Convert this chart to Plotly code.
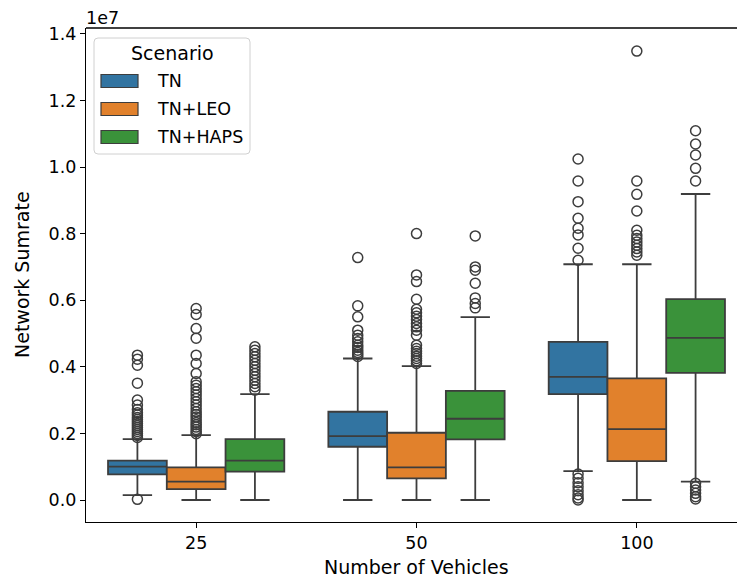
import plotly.graph_objects as go

# ---------------- data (values in units of 1e7) ----------------
categories = ["25", "50", "100"]
scenarios = ["TN", "TN+LEO", "TN+HAPS"]
colors = ["#3274a1", "#e1812c", "#3a923a"]

tn_q1 = [0.077, 0.160, 0.318]
tn_med = [0.100, 0.192, 0.370]
tn_q3 = [0.118, 0.265, 0.475]
tn_lo = [0.015, 0.0, 0.087]
tn_hi = [0.183, 0.425, 0.708]
tn_out = [
    [0.435, 0.423, 0.405, 0.351, 0.30, 0.285, 0.272, 0.262, 0.255, 0.248, 0.242,
     0.236, 0.23, 0.224, 0.218, 0.212, 0.206, 0.2, 0.194, 0.188, 0.002],
    [0.728, 0.583, 0.55, 0.51, 0.495, 0.485, 0.475, 0.465, 0.458, 0.45, 0.443, 0.437, 0.431],
    [1.024, 0.958, 0.896, 0.846, 0.816, 0.796, 0.756, 0.72,
     0.078, 0.065, 0.052, 0.04, 0.028, 0.016, 0.006, 0.0],
]

leo_q1 = [0.033, 0.065, 0.117]
leo_med = [0.055, 0.098, 0.213]
leo_q3 = [0.098, 0.202, 0.365]
leo_lo = [0.0, 0.0, 0.0]
leo_hi = [0.195, 0.402, 0.708]
leo_out = [
    [0.575, 0.557, 0.515, 0.486, 0.435, 0.41, 0.38, 0.355, 0.345, 0.335, 0.325, 0.315,
     0.305, 0.295, 0.285, 0.275, 0.265, 0.257, 0.249, 0.241, 0.233, 0.226, 0.219,
     0.212, 0.205, 0.199],
    [0.80, 0.676, 0.656, 0.603, 0.573, 0.562, 0.552, 0.542, 0.53, 0.52, 0.51, 0.495,
     0.465, 0.455, 0.447, 0.44, 0.432, 0.425, 0.418, 0.41],
    [1.348, 0.958, 0.918, 0.868, 0.81, 0.795, 0.785, 0.775, 0.765, 0.755, 0.745, 0.735],
]

haps_q1 = [0.085, 0.182, 0.382]
haps_med = [0.118, 0.244, 0.487]
haps_q3 = [0.183, 0.328, 0.603]
haps_lo = [0.0, 0.0, 0.055]
haps_hi = [0.318, 0.549, 0.919]
haps_out = [
    [0.46, 0.45, 0.44, 0.43, 0.42, 0.41, 0.40, 0.39, 0.38, 0.37, 0.36, 0.35, 0.34, 0.33],
    [0.793, 0.70, 0.69, 0.651, 0.607, 0.59, 0.577],
    [1.109, 1.069, 1.036, 0.996, 0.958, 0.05, 0.04, 0.03, 0.02, 0.01, 0.003],
]

y_ticks = [0.0, 0.2, 0.4, 0.6, 0.8, 1.0, 1.2, 1.4]
SCALE = 1e7

# ---------------- styling / layout constants ----------------
W, H = 737, 583
PL, PR, PT, PB = 86, 737, 28, 522   # plot area in pixels
EDGE = "#3d3d3d"
FONT = "DejaVu Sans"
FS = 17.5      # tick / legend text
FS_L = 19      # axis labels / legend title
GROUP = 0.8
BW = GROUP / 3

def px(x):
    return (x - PL) / (PR - PL)

def py(y):
    return (PB - y) / (PB - PT)

series = [
    (tn_q1, tn_med, tn_q3, tn_lo, tn_hi, tn_out),
    (leo_q1, leo_med, leo_q3, leo_lo, leo_hi, leo_out),
    (haps_q1, haps_med, haps_q3, haps_lo, haps_hi, haps_out),
]

fig = go.Figure()
for j, (q1, med, q3, lo, hi, outs) in enumerate(series):
    pos = [i + (j - 1) * BW for i in range(len(categories))]
    fig.add_trace(go.Box(
        x=pos,
        q1=[v * SCALE for v in q1],
        median=[v * SCALE for v in med],
        q3=[v * SCALE for v in q3],
        lowerfence=[v * SCALE for v in lo],
        upperfence=[v * SCALE for v in hi],
        width=BW,
        whiskerwidth=0.5,
        fillcolor=colors[j],
        line=dict(color=EDGE, width=1.8),
        boxpoints=False,
        name=scenarios[j],
        showlegend=False,
        hoverinfo="skip",
    ))
    ox, oy = [], []
    for i, vals in enumerate(outs):
        ox += [pos[i]] * len(vals)
        oy += [v * SCALE for v in vals]
    fig.add_trace(go.Scatter(
        x=ox, y=oy, mode="markers",
        marker=dict(symbol="circle-open", size=10, color=EDGE, line=dict(width=1.5, color=EDGE)),
        showlegend=False, hoverinfo="skip",
    ))

shapes = []
# top spine
shapes.append(dict(type="line", xref="paper", yref="paper", x0=0, x1=1, y0=1, y1=1,
                   line=dict(color="black", width=1.3)))

# legend frame (rounded)
lx0, lx1, ly0, ly1, r = 94, 250, 38, 154, 4
path = (f"M {px(lx0 + r)} {py(ly0)} L {px(lx1 - r)} {py(ly0)} "
        f"Q {px(lx1)} {py(ly0)} {px(lx1)} {py(ly0 + r)} "
        f"L {px(lx1)} {py(ly1 - r)} Q {px(lx1)} {py(ly1)} {px(lx1 - r)} {py(ly1)} "
        f"L {px(lx0 + r)} {py(ly1)} Q {px(lx0)} {py(ly1)} {px(lx0)} {py(ly1 - r)} "
        f"L {px(lx0)} {py(ly0 + r)} Q {px(lx0)} {py(ly0)} {px(lx0 + r)} {py(ly0)} Z")
shapes.append(dict(type="path", xref="paper", yref="paper", path=path,
                   fillcolor="rgba(255,255,255,0.8)", line=dict(color="#d0d0d0", width=1)))

annotations = []
annotations.append(dict(text="Scenario", xref="paper", yref="paper", x=px(172), y=py(53),
                        xanchor="center", yanchor="middle", showarrow=False,
                        font=dict(family=FONT, size=FS_L, color="black")))
rows = [81, 109, 137]
for j, name in enumerate(scenarios):
    cy = rows[j]
    shapes.append(dict(type="rect", xref="paper", yref="paper",
                       x0=px(101), x1=px(138), y0=py(cy - 6.5), y1=py(cy + 6.5),
                       fillcolor=colors[j], line=dict(color=EDGE, width=1.2)))
    annotations.append(dict(text=name, xref="paper", yref="paper", x=px(155), y=py(cy),
                            xanchor="left", yanchor="middle", showarrow=False,
                            font=dict(family=FONT, size=FS, color="black")))

# axis titles and offset text
annotations.append(dict(text="Number of Vehicles", xref="paper", yref="paper",
                        x=px(416), y=py(567), xanchor="center", yanchor="middle",
                        showarrow=False, font=dict(family=FONT, size=FS_L, color="black")))
annotations.append(dict(text="Network Sumrate", xref="paper", yref="paper",
                        x=px(22), y=py(275), xanchor="center", yanchor="middle", textangle=-90,
                        showarrow=False, font=dict(family=FONT, size=FS_L, color="black")))
annotations.append(dict(text="1e7", xref="paper", yref="paper",
                        x=px(84), y=py(18), xanchor="left", yanchor="middle",
                        showarrow=False, font=dict(family=FONT, size=FS, color="black")))

xr_right = (len(categories) - 0.5) - 10 / 220.5
fig.update_layout(
    width=W, height=H,
    margin=dict(l=PL, r=W - PR, t=PT, b=H - PB),
    paper_bgcolor="white", plot_bgcolor="white",
    font=dict(family=FONT, size=FS, color="black"),
    shapes=shapes, annotations=annotations,
    showlegend=False,
    xaxis=dict(range=[-0.5, xr_right], tickmode="array", tickvals=list(range(len(categories))),
               ticktext=categories, ticks="outside", ticklen=5, tickwidth=1.2, tickcolor="black",
               showline=True, linecolor="black", linewidth=1.3, showgrid=False, zeroline=False),
    yaxis=dict(range=[-0.066 * SCALE, 1.4174 * SCALE], tickmode="array",
               tickvals=[v * SCALE for v in y_ticks], ticktext=[f"{v:.1f}" for v in y_ticks],
               ticks="outside", ticklen=5, tickwidth=1.2, tickcolor="black",
               showline=True, linecolor="black", linewidth=1.3, showgrid=False, zeroline=False),
)

fig.write_html("out.html")
